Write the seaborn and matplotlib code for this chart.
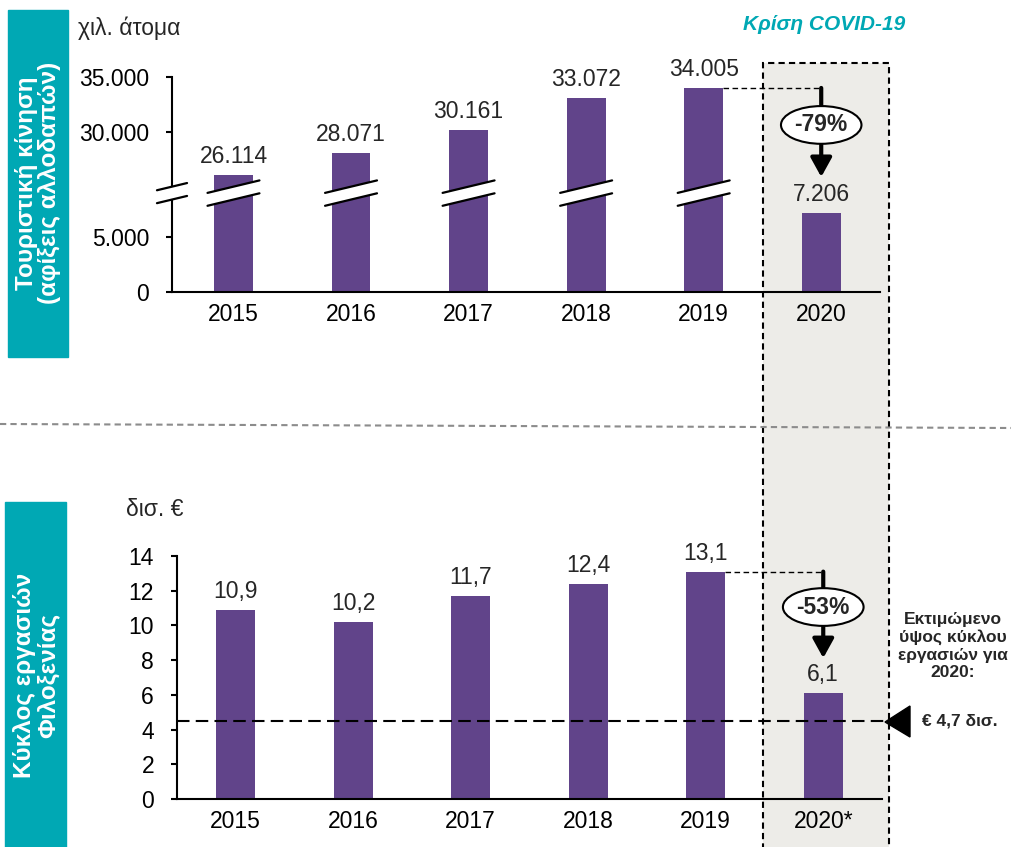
import numpy as np
import matplotlib
matplotlib.use("Agg")
import matplotlib.pyplot as plt
import matplotlib.transforms as mtransforms
from matplotlib.patches import Rectangle, Polygon
import seaborn as sns

# -----------------------------
# Data
# -----------------------------
years_top = ["2015", "2016", "2017", "2018", "2019", "2020"]
arrivals = [26114, 28071, 30161, 33072, 34005, 7206]
arrivals_labels = ["26.114", "28.071", "30.161", "33.072", "34.005", "7.206"]
top_ticks = [0, 5000, 30000, 35000]
top_tick_labels = ["0", "5.000", "30.000", "35.000"]

years_bottom = ["2015", "2016", "2017", "2018", "2019", "2020*"]
turnover = [10.9, 10.2, 11.7, 12.4, 13.1, 6.1]
turnover_labels = ["10,9", "10,2", "11,7", "12,4", "13,1", "6,1"]
bottom_ticks = [0, 2, 4, 6, 8, 10, 12, 14]
estimate_2020 = 4.5

# -----------------------------
# Style
# -----------------------------
sns.set_style("white")
plt.rcParams["font.family"] = ["Liberation Sans", "DejaVu Sans"]
purple = "#61448A"
teal = "#00A8B4"
fs = 16.5

W, H = 1012, 847
fig = plt.figure(figsize=(W / 100, H / 100), dpi=100)


def fx(px):
    return px / W


def fy(py):
    return (H - py) / H


# grey COVID band with dashed border (figure level)
fig.add_artist(Rectangle((fx(763), -0.02), fx(889) - fx(763), fy(63) + 0.02,
                         transform=fig.transFigure, facecolor="#EDECE8",
                         edgecolor="black", lw=1.5, ls=(0, (3, 2)), zorder=-2))
# separator
fig.add_artist(plt.Line2D([0, 1], [fy(424), fy(428)], transform=fig.transFigure,
                          color="#8C8C8C", lw=1.5, ls=(0, (3, 2)), zorder=-1))
# teal side boxes
fig.add_artist(Rectangle((fx(8), fy(357)), fx(68) - fx(8), fy(10) - fy(357),
                         transform=fig.transFigure, color=teal, zorder=-1))
fig.add_artist(Rectangle((fx(5), -0.01), fx(66) - fx(5), fy(502) + 0.01,
                         transform=fig.transFigure, color=teal, zorder=-1))
fig.text(fx(38), fy(183), "Τουριστική κίνηση\n(αφίξεις αλλοδαπών)", rotation=90,
         ha="center", va="center", color="white", fontsize=17.5, fontweight="bold",
         linespacing=1.0)
fig.text(fx(36), fy(675), "Κύκλος εργασιών\nΦιλοξενίας", rotation=90,
         ha="center", va="center", color="white", fontsize=17.5, fontweight="bold",
         linespacing=1.0)
fig.text(fx(824), fy(25), "Κρίση COVID-19", ha="center", va="center", color=teal,
         fontsize=15, fontweight="bold", fontstyle="italic")
fig.text(fx(78), fy(28), "χιλ. άτομα", ha="left", va="center", fontsize=fs)
fig.text(fx(126), fy(510), "δισ. €", ha="left", va="center", fontsize=fs)

# -----------------------------
# Top panel: broken axis
# -----------------------------
ax1 = fig.add_axes([fx(172), fy(292), fx(880) - fx(172), fy(77) - fy(292)])
ax1.set_facecolor("none")
sns.barplot(x=years_top, y=arrivals, color=purple, saturation=1, width=0.33,
            ax=ax1, edgecolor="none")

brk, offset = 9000, 15455


def fwd(v):
    v = np.asarray(v, dtype=float)
    return np.where(v <= brk, v, np.where(v >= brk + offset, v - offset, brk))


def inv(u):
    u = np.asarray(u, dtype=float)
    return np.where(u <= brk, u, u + offset)


ax1.set_yscale("function", functions=(fwd, inv))
ax1.set_ylim(0, 35000)
ax1.set_xlim(-0.523, 5.5)
ax1.set_yticks(top_ticks)
ax1.set_yticklabels(top_tick_labels)
ax1.bar_label(ax1.containers[0], labels=arrivals_labels, padding=5, fontsize=fs)

# break marks on each pre-2020 bar and on the axis
bt = mtransforms.blended_transform_factory(ax1.transData, ax1.transAxes)
yc, rise, half = 0.46, 0.029, 0.03
for cx, hw in [(i, 0.221) for i in range(5)] + [(-0.523, 0.128)]:
    r = rise * hw / 0.221
    x0, x1 = cx - hw, cx + hw
    ax1.add_patch(Polygon([(x0, yc - r - half), (x1, yc + r - half),
                           (x1, yc + r + half), (x0, yc - r + half)],
                          transform=bt, facecolor="white", edgecolor="none",
                          zorder=5, clip_on=False))
    for s in (-half, half):
        ax1.plot([x0, x1], [yc - r + s, yc + r + s], transform=bt, color="black",
                 lw=1.6, zorder=6, clip_on=False)

# -79% arrow
ax1.plot([4.165, 5], [arrivals[4], arrivals[4]], color="black", lw=1,
         ls=(0, (4, 2.5)), zorder=3)
ax1.annotate("", xy=(5, 0.535), xycoords=bt, xytext=(5, arrivals[4]),
             textcoords="data",
             arrowprops=dict(arrowstyle="-|>,head_length=0.58,head_width=0.32",
                             color="black", lw=3, shrinkA=0, shrinkB=0,
                             mutation_scale=20), zorder=4)
ax1.text(5, 0.777, "-79%", transform=bt, ha="center", va="center", fontsize=16.5,
         fontweight="bold", zorder=7,
         bbox=dict(boxstyle="ellipse,pad=0.08", fc="white", ec="black", lw=1.5))

# -----------------------------
# Bottom panel
# -----------------------------
ax2 = fig.add_axes([fx(177), fy(799), fx(882) - fx(177), fy(556) - fy(799)])
ax2.set_facecolor("none")
sns.barplot(x=years_bottom, y=turnover, color=purple, saturation=1, width=0.33,
            ax=ax2, edgecolor="none")
ax2.set_ylim(0, 14)
ax2.set_xlim(-0.5, 5.5)
ax2.set_yticks(bottom_ticks)
ax2.bar_label(ax2.containers[0], labels=turnover_labels, padding=5, fontsize=fs)

ax2.plot([-0.5, 5.52], [estimate_2020, estimate_2020], color="black", lw=1.5,
         ls=(0, (6, 3)), zorder=3, clip_on=False)
ax2.plot([4.165, 5], [turnover[4], turnover[4]], color="black", lw=1,
         ls=(0, (4, 2.5)), zorder=3)
ax2.annotate("", xy=(5, 8.12), xytext=(5, turnover[4]),
             arrowprops=dict(arrowstyle="-|>,head_length=0.58,head_width=0.32",
                             color="black", lw=3, shrinkA=0, shrinkB=0,
                             mutation_scale=20), zorder=4)
ax2.text(5, 11.06, "-53%", ha="center", va="center", fontsize=16.5,
         fontweight="bold", zorder=7,
         bbox=dict(boxstyle="ellipse,pad=0.08", fc="white", ec="black", lw=1.5))

# estimate note on the right
fig.add_artist(Polygon([(fx(885), fy(722)), (fx(910), fy(706)), (fx(910), fy(737))],
                       closed=True, transform=fig.transFigure, color="black"))
fig.text(fx(953), fy(646), "Εκτιμώμενο\nύψος κύκλου\nεργασιών για\n2020:",
         ha="center", va="center", fontsize=12.5, fontweight="bold", linespacing=1.2)
fig.text(fx(960), fy(721), "€ 4,7 δισ.", ha="center", va="center", fontsize=12.5,
         fontweight="bold")

for ax in (ax1, ax2):
    sns.despine(ax=ax)
    for side in ("left", "bottom"):
        ax.spines[side].set_color("black")
        ax.spines[side].set_linewidth(1.5)
    ax.set_xlabel("")
    ax.set_ylabel("")
    ax.tick_params(axis="y", direction="out", length=4.5, width=1.5, pad=12,
                   labelsize=fs, left=True, colors="black")
    ax.tick_params(axis="x", length=0, pad=8, labelsize=fs, colors="black")

fig.savefig("out.png", dpi=100)
